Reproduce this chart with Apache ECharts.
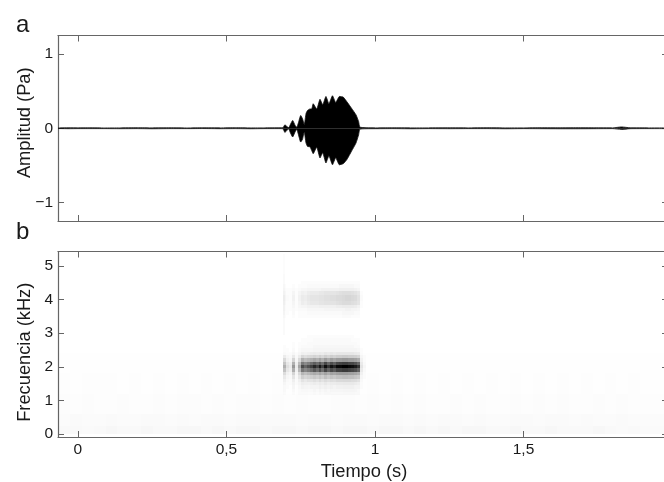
<!DOCTYPE html>
<html><head><meta charset="utf-8">
<script src="https://cdn.jsdelivr.net/npm/echarts@6/dist/echarts.min.js"></script>
<style>html,body{margin:0;padding:0;background:#fff}#c{width:664px;height:482px}</style>
</head><body><div id="c"></div>
<script>
// Waveform envelope (s, Pa)
const waveTimes = [-0.067,-0.03,0,0.04,0.09,0.14,0.2,0.25,0.31,0.37,0.42,0.48,0.53,0.58,0.63,0.67,0.69,0.697,0.704,0.71,0.714,0.723,0.731,0.737,0.742,0.75,0.756,0.762,0.768,0.773,0.781,0.787,0.792,0.804,0.815,0.824,0.835,0.845,0.857,0.868,0.88,0.893,0.905,0.921,0.936,0.945,0.949,0.97,1.01,1.06,1.12,1.18,1.25,1.31,1.38,1.44,1.5,1.56,1.62,1.68,1.74,1.8,1.83,1.86,1.92,1.973];
const waveUpper = [0.004,0.006,0.005,0.006,0.004,0.005,0.007,0.005,0.006,0.004,0.006,0.005,0.007,0.005,0.005,0.006,0.007,0.047,0.02,0.008,0.04,0.105,0.04,0.012,0.07,0.172,0.13,0.05,0.2,0.24,0.26,0.26,0.33,0.259,0.39,0.317,0.428,0.331,0.438,0.347,0.428,0.42,0.36,0.27,0.182,0.091,0.016,0.007,0.005,0.006,0.005,0.005,0.006,0.005,0.007,0.005,0.005,0.007,0.006,0.007,0.006,0.005,0.018,0.006,0.005,0.005];
const waveLower = [-0.004,-0.006,-0.005,-0.005,-0.005,-0.006,-0.005,-0.007,-0.005,-0.005,-0.004,-0.006,-0.005,-0.007,-0.005,-0.005,-0.007,-0.057,-0.025,-0.008,-0.05,-0.118,-0.05,-0.012,-0.08,-0.186,-0.15,-0.05,-0.2,-0.245,-0.25,-0.3,-0.343,-0.255,-0.4,-0.33,-0.468,-0.371,-0.492,-0.397,-0.492,-0.478,-0.425,-0.31,-0.2,-0.088,-0.014,-0.007,-0.006,-0.005,-0.007,-0.005,-0.006,-0.005,-0.005,-0.007,-0.005,-0.006,-0.007,-0.007,-0.006,-0.005,-0.016,-0.006,-0.005,-0.005];

// Spectrogram columns (s) and the darkness (%) of the harmonics
const specTimes = [0.69,0.70,0.71,0.72,0.73,0.74,0.75,0.76,0.77,0.78,0.79,0.80,0.81,0.82,0.83,0.84,0.85,0.86,0.87,0.88,0.89,0.90,0.91,0.92,0.93,0.94,0.95,0.96];
const lowBandFreqs = [2.9,2.8,2.7,2.6,2.5,2.4,2.3,2.2,2.1,2.0,1.9,1.8,1.7,1.6,1.5,1.4,1.3,1.2];
const lowBand = [
 [0,0,0,0,0,0,0,0,1,1,1,1,1,1,1,1,1,1,1,1,1,1,1,1,0,0,0,0],
 [0,0,0,0,0,0,1,1,1,1,2,2,2,2,2,2,2,2,2,2,2,2,2,1,1,1,0,0],
 [0,0,0,1,0,1,1,1,2,2,2,2,2,2,2,2,2,2,2,2,2,2,2,2,2,1,0,0],
 [1,0,0,1,0,1,2,2,2,2,3,3,3,3,3,3,3,3,3,3,3,3,3,3,2,2,0,0],
 [1,1,0,2,0,2,3,3,3,3,4,4,4,4,4,4,4,4,4,4,4,4,4,4,4,3,1,0],
 [2,1,1,3,1,3,6,5,6,7,8,7,8,7,9,8,9,8,9,9,9,9,9,9,8,7,1,0],
 [7,3,2,8,2,7,15,12,14,15,17,15,18,15,19,16,19,17,19,19,20,20,19,19,18,16,3,1],
 [14,5,3,16,3,14,30,25,28,30,34,30,36,30,38,32,38,34,38,38,40,40,38,38,36,32,5,1],
 [22,9,6,30,6,26,52,45,50,57,63,57,66,57,72,60,70,63,72,74,76,76,73,72,68,60,8,2],
 [30,12,8,40,8,35,70,60,68,75,85,75,90,75,95,80,93,85,97,97,100,100,97,95,90,80,10,3],
 [23,9,6,31,6,27,53,46,51,57,65,57,68,57,72,61,71,65,74,74,77,77,74,72,69,61,8,2],
 [13,5,3,16,3,14,28,24,27,30,33,30,35,30,36,31,36,34,37,38,38,38,37,36,34,31,5,1],
 [8,3,2,10,2,9,18,15,17,19,21,19,22,19,24,20,23,21,24,24,25,25,24,24,22,20,3,1],
 [5,2,1,6,1,5,10,8,10,10,12,10,13,10,13,11,13,12,14,14,14,14,14,13,13,11,2,0],
 [3,1,1,4,1,3,6,5,5,6,7,6,7,6,8,6,7,7,8,8,8,8,8,8,7,6,1,0],
 [2,1,0,3,0,2,4,3,3,4,4,4,5,4,5,4,5,4,5,5,5,5,5,5,4,4,1,0],
 [2,0,0,2,0,1,2,2,2,2,3,2,3,2,3,2,3,3,3,3,3,3,3,3,3,2,0,0],
 [1,0,0,1,0,1,1,1,1,1,2,1,2,1,2,2,2,2,2,2,2,2,2,2,2,2,0,0]
];
const highBandFreqs = [4.5,4.4,4.3,4.2,4.1,4.0,3.9,3.8,3.7,3.6,3.5];
const highBand = [
 [0,0,0,0,0,0,1,1,1,1,1,1,1,1,1,1,1,1,1,1,1,1,1,1,1,1,0,0],
 [1,0,0,1,0,1,1,1,2,2,2,2,2,2,2,2,2,2,2,3,3,3,3,3,2,2,0,0],
 [2,1,1,2,1,2,3,3,4,4,4,4,4,5,5,5,5,5,5,6,6,6,6,6,5,4,0,0],
 [3,1,1,4,1,4,6,5,7,8,8,8,9,9,10,10,10,10,11,12,13,13,13,12,11,9,1,0],
 [4,2,1,5,1,5,8,7,9,10,10,10,11,11,12,12,13,13,14,14,15,16,16,15,14,11,2,0],
 [4,2,1,5,1,5,8,7,9,10,10,10,11,11,12,12,13,13,14,14,15,16,16,15,14,11,2,0],
 [3,1,1,4,1,4,7,6,8,9,9,9,10,10,11,11,11,11,12,13,14,14,14,13,12,10,1,0],
 [2,1,1,3,1,3,4,4,5,5,5,5,6,6,6,6,6,6,7,7,8,8,8,8,7,5,1,0],
 [2,1,1,2,1,2,2,2,3,3,3,3,3,3,4,4,4,4,4,4,4,5,5,4,4,3,0,0],
 [1,1,0,2,0,1,1,1,2,2,2,2,2,2,2,2,2,2,2,2,3,3,3,3,2,2,0,0],
 [1,0,0,1,0,1,1,1,1,1,1,1,1,1,1,1,1,1,1,1,2,2,2,1,1,1,0,0]
];
// Faint vertical streak at the onset of the call
const streakFreqs = [5.2,4.9,4.6,4.3,4.0,3.7,3.4,3.1];
const streakValues = [1,1,2,2,3,3,2,2];

// Background noise of the spectrogram, darkness (%) per coarse column
const noiseStart = -0.067;
const noiseRows = [
 {f:2.1, h:0.6},{f:1.5, h:0.6},{f:0.9, h:0.6},{f:0.42, h:0.36},{f:0.12, h:0.24}
];
const noise21 = [.5,.5,.5,.5,.5,.5,.5,.3,.5,.3,.5,.3,.3,.5,.3,.5,.5,.5,.3,.5,.3,.5,.3,.3,.5,.5,.5,.3,.5,.3,.5,.5,.3,.3,.5,.5,.3,.5,.3,.5,.5,.3,.5,.3,.3,.5,.3,.5,.3,.5,.3];
const noise15 = [.6,.5,.6,.7,.6,.5,.6,.5,.6,.5,.6,.5,.6,.5,.7,.5,.6,.5,.6,.5,.6,.5,.6,.5,.6,.5,.6,.5,.6,.5,.6,.5,.6,.5,.6,.5,.6,.5,.6,.5,.6,.5,.6,.5,.6,.5,.6,.5,.6,.5,.5];
const noise09 = [1,.7,1,.7,.7,1,.7,.7,1,.7,1,1,.7,1,.7,1,1,.7,1,.7,1,.7,.7,1,1,.7,1,.7,1,.7,1,.7,.7,1,.7,1,.7,.7,1,.7,1,.7,1,.7,.7,1,.7,1,.7,.7,.7];
const noise04 = [1.4,1.8,1.4,1.4,1.8,1.4,1.4,1.8,1.8,1.4,1.8,1.4,1.8,1.8,1.4,1.8,1.8,1.8,1.8,1.8,1.4,1.8,1.8,1.4,1.8,1.8,1.4,1.8,1.8,1.4,1.8,1.4,1.8,1.8,1.4,1.8,1.4,1.4,1.8,1.8,1.4,1.8,1.8,1.4,1.8,1.4,1.4,1.8,1.4,1.4,1.4];
const noise01 = [2.5,2.5,2,2.5,3,2.5,2.5,3,2.5,2.5,3,3,2.5,3,2.5,3,3,2.5,3,3,2.5,3,3,2.5,3,3,2.5,3,3,2.5,3,2.5,3,2.5,3,3,2.5,2.5,3,2.5,2.5,3,2.5,2.5,2.5,3,2.5,2,2.5,2,2];
const noiseValues = [noise21,noise15,noise09,noise04,noise01];

const tickTimes = [0,0.5,1,1.5];
const ampTicks = [-1,0,1];
const freqTicks = [0,1,2,3,4,5];

// Cells: [t, f, darkness, width, height]
const cells = [];
noiseValues.forEach((row,r)=>row.forEach((v,i)=>{
  cells.push([noiseStart+i*0.04, noiseRows[r].f, v, 0.04, noiseRows[r].h]);
}));
lowBand.forEach((row,r)=>row.forEach((v,i)=>{ if(v) cells.push([specTimes[i], lowBandFreqs[r], v, 0.01, 0.1]); }));
highBand.forEach((row,r)=>row.forEach((v,i)=>{ if(v) cells.push([specTimes[i], highBandFreqs[r], v, 0.01, 0.1]); }));
streakFreqs.forEach((f,i)=>cells.push([0.69, f, streakValues[i], 0.006, 0.3]));

const ink='#1a1a1a', frame='#666666', font='"Liberation Sans", Arial, sans-serif';
const L=58, W=606;
const xMin=-0.067, xMax=1.973;
const line={show:true,onZero:false,lineStyle:{color:frame,width:1.2}};
const tick={show:true,inside:true,length:6,customValues:tickTimes,lineStyle:{color:frame,width:1}};
function xAx(g,pos,labels,name){
  return {type:'value',gridIndex:g,position:pos,min:xMin,max:xMax,splitLine:{show:false},axisLine:line,axisTick:tick,
    axisLabel:labels?{show:true,customValues:tickTimes,color:ink,fontFamily:font,fontSize:15.5,margin:5,
      showMinLabel:true,showMaxLabel:true,formatter:v=>String(v).replace('.',',')}:{show:false},
    name:name||'',nameLocation:'middle',nameGap:26,nameMoveOverlap:false,
    nameTextStyle:{color:ink,fontFamily:font,fontSize:18.3,padding:[0,0,0,6]}};
}
function yAx(g,min,max,ticks,name,gap,pos,pad){
  const left=pos==='left';
  return {type:'value',gridIndex:g,position:pos,min,max,splitLine:{show:false},
    axisLine:left?line:{show:false,onZero:false},
    axisTick:{show:true,inside:true,length:left?6:2,customValues:ticks,lineStyle:{color:frame,width:1}},
    axisLabel:left?{show:true,customValues:ticks,color:ink,fontFamily:font,fontSize:15.5,margin:5,
      formatter:v=>String(v).replace('-','\u2212')}:{show:false},
    name:left?name:'',nameLocation:'middle',nameGap:gap,nameRotate:90,nameMoveOverlap:false,
    nameTextStyle:{color:ink,fontFamily:font,fontSize:18.3,padding:pad||0}};
}
const chart=echarts.init(document.getElementById('c'),null,{renderer:'canvas'});
chart.setOption({
  animation:false,backgroundColor:'#fff',
  title:[
    {text:'a',left:11,top:8,textStyle:{color:ink,fontFamily:font,fontSize:24,fontWeight:'normal'}},
    {text:'b',left:11,top:215,textStyle:{color:ink,fontFamily:font,fontSize:24,fontWeight:'normal'}}
  ],
  grid:[
    {left:L,width:W,top:35.5,height:185.5,outerBoundsMode:'none'},
    {left:L,width:W,top:251.5,height:185.5,outerBoundsMode:'none'}
  ],
  xAxis:[xAx(0,'bottom',false),xAx(0,'top',false),xAx(1,'bottom',true,'Tiempo (s)'),xAx(1,'top',false)],
  yAxis:[
    yAx(0,-1.25,1.25,ampTicks,'Amplitud (Pa)',24,'left',[0,0,0,11]),yAx(0,-1.25,1.25,ampTicks,'',0,'right'),
    yAx(1,-0.09,5.43,freqTicks,'Frecuencia (kHz)',24,'left',[0,16,0,0]),yAx(1,-0.09,5.43,freqTicks,'',0,'right')
  ],
  series:[
    {type:'line',xAxisIndex:0,yAxisIndex:0,showSymbol:false,smooth:0.15,silent:true,
     data:waveTimes.map((t,i)=>[t,waveUpper[i]]),lineStyle:{color:'#111',width:0.8},areaStyle:{color:'#000',opacity:1,origin:0}},
    {type:'line',xAxisIndex:0,yAxisIndex:0,showSymbol:false,smooth:0.15,silent:true,
     data:waveTimes.map((t,i)=>[t,waveLower[i]]),lineStyle:{color:'#111',width:0.8},areaStyle:{color:'#000',opacity:1,origin:0}},
    {type:'custom',xAxisIndex:2,yAxisIndex:2,silent:true,clip:true,
     encode:{x:0,y:1},data:cells,
     renderItem:(p,api)=>{
       const t=api.value(0),f=api.value(1),v=api.value(2),w=api.value(3),h=api.value(4);
       const a=api.coord([t,f+h/2]),b=api.coord([t+w,f-h/2]);
       const x=Math.round(a[0]),y=Math.round(a[1]);
       return {type:'rect',shape:{x,y,width:Math.round(b[0])-x,height:Math.round(b[1])-y},
         style:{fill:'rgba(0,0,0,'+(v/100)+')'}};
     }}
  ]
});
</script></body></html>
